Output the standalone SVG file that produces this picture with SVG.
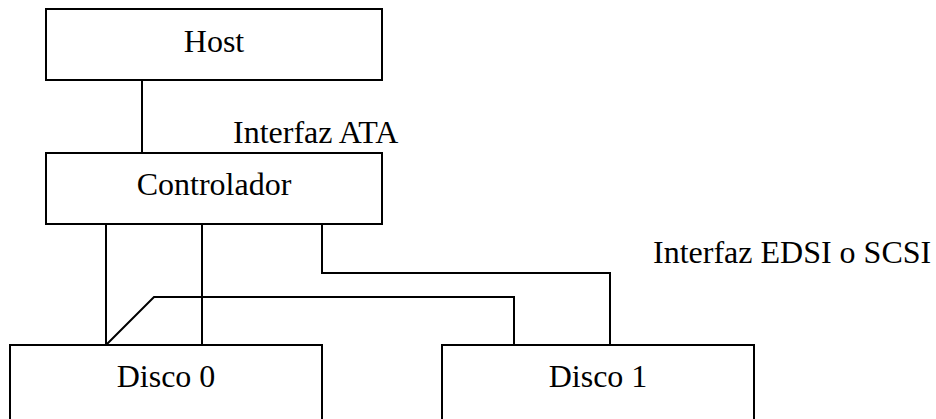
<svg xmlns="http://www.w3.org/2000/svg" width="936" height="419" viewBox="0 0 936 419">
<style>
.box{fill:#fff;stroke:#000;stroke-width:2}
.ln{fill:none;stroke:#000;stroke-width:2}
text{font-family:"Liberation Serif","Times New Roman",serif;font-size:32px;fill:#000}
.c{text-anchor:middle}
</style>
<rect width="936" height="419" fill="#fff"/>
<g id="connectors">
<path class="ln" d="M142 80 V153"/>
<path class="ln" d="M106 224 V345"/>
<path class="ln" d="M202 224 V345"/>
<path class="ln" d="M106 345 L154 297 H514 V345"/>
<path class="ln" d="M322 224 V273 H610 V345"/>
</g>
<g id="host">
<rect class="box" x="46" y="9" width="336" height="71"/>
<text class="c" x="214" y="52">Host</text>
</g>
<g id="label-ata">
<text x="233" y="143">Interfaz ATA</text>
</g>
<g id="controlador">
<rect class="box" x="46" y="153" width="336" height="71"/>
<text class="c" x="214" y="195">Controlador</text>
</g>
<g id="label-edsi">
<text x="653" y="263">Interfaz EDSI o SCSI</text>
</g>
<g id="disco0">
<rect class="box" x="10" y="345" width="312" height="90"/>
<text class="c" x="166" y="387">Disco 0</text>
</g>
<g id="disco1">
<rect class="box" x="442" y="345" width="312" height="90"/>
<text class="c" x="598" y="387">Disco 1</text>
</g>
</svg>
